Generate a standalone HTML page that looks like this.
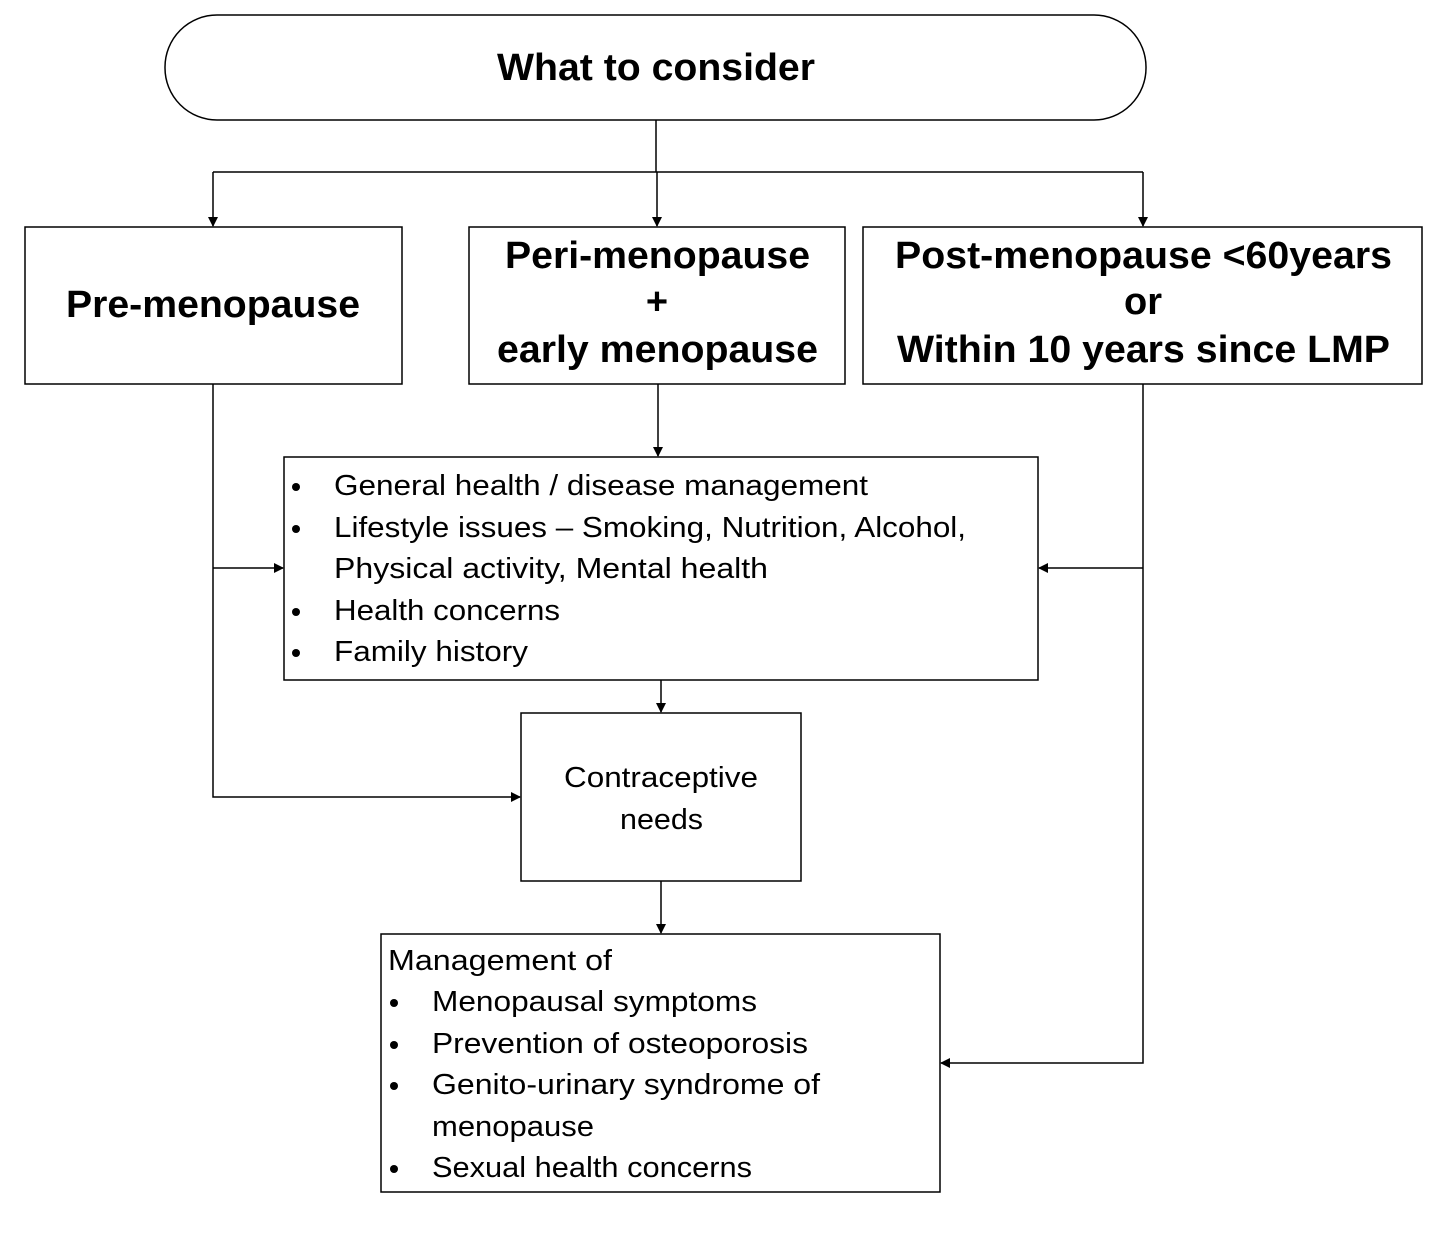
<!DOCTYPE html>
<html><head><meta charset="utf-8"><style>
html,body{margin:0;padding:0;background:#fff;}
svg{display:block;}
.t{font-family:"Liberation Sans",sans-serif;font-weight:bold;font-size:38px;fill:#000;}
.b{font-family:"Liberation Sans","DejaVu Sans",sans-serif;font-size:29px;fill:#000;}
</style></head><body>
<svg width="1437" height="1236" viewBox="0 0 1437 1236">
<defs><marker id="ar" markerWidth="10" markerHeight="10" refX="9" refY="5" orient="auto" markerUnits="userSpaceOnUse"><path d="M0,0 L10,5 L0,10 z" fill="#000"/></marker></defs>
<g stroke="#000" stroke-width="1.5" fill="none">
<rect x="165" y="15" width="981" height="105" rx="52" ry="52"/>
<rect x="25" y="227" width="377" height="157"/>
<rect x="469" y="227" width="376" height="157"/>
<rect x="863" y="227" width="559" height="157"/>
<rect x="284" y="457" width="754" height="223"/>
<rect x="521" y="713" width="280" height="168"/>
<rect x="381" y="934" width="559" height="258"/>
<g>
<path d="M656,120 V172"/>
<path d="M213,172 H1143"/>
<path d="M213,172 V226" marker-end="url(#ar)"/>
<path d="M657,172 V226" marker-end="url(#ar)"/>
<path d="M1143,172 V226" marker-end="url(#ar)"/>
<path d="M658,384 V456" marker-end="url(#ar)"/>
<path d="M213,384 V797 H520" marker-end="url(#ar)"/>
<path d="M213,568 H283" marker-end="url(#ar)"/>
<path d="M1143,384 V1063 H941" marker-end="url(#ar)"/>
<path d="M1143,568 H1039" marker-end="url(#ar)"/>
<path d="M661,680 V712" marker-end="url(#ar)"/>
<path d="M661,881 V933" marker-end="url(#ar)"/>
</g>
</g>
<text class="t" x="497" y="80" textLength="318" lengthAdjust="spacingAndGlyphs">What to consider</text>
<text class="t" x="66" y="317" textLength="294" lengthAdjust="spacingAndGlyphs">Pre-menopause</text>
<text class="t" x="505" y="268" textLength="305" lengthAdjust="spacingAndGlyphs">Peri-menopause</text>
<text class="t" x="657" y="314" text-anchor="middle">+</text>
<text class="t" x="497" y="362" textLength="321" lengthAdjust="spacingAndGlyphs">early menopause</text>
<text class="t" x="895" y="268" textLength="497" lengthAdjust="spacingAndGlyphs">Post-menopause &lt;60years</text>
<text class="t" x="1143" y="314" text-anchor="middle">or</text>
<text class="t" x="897" y="362" textLength="493" lengthAdjust="spacingAndGlyphs">Within 10 years since LMP</text>

<g>
<circle cx="296" cy="487" r="4"/><text class="b" x="334" y="495" textLength="534" lengthAdjust="spacingAndGlyphs">General health / disease management</text>
<circle cx="296" cy="529" r="4"/><text class="b" x="334" y="537" textLength="632" lengthAdjust="spacingAndGlyphs">Lifestyle issues – Smoking, Nutrition, Alcohol,</text>
<text class="b" x="334" y="578" textLength="434" lengthAdjust="spacingAndGlyphs">Physical activity, Mental health</text>
<circle cx="296" cy="612" r="4"/><text class="b" x="334" y="620" textLength="226" lengthAdjust="spacingAndGlyphs">Health concerns</text>
<circle cx="296" cy="653" r="4"/><text class="b" x="334" y="661" textLength="194" lengthAdjust="spacingAndGlyphs">Family history</text>
</g>
<text class="b" x="564" y="787" textLength="194" lengthAdjust="spacingAndGlyphs">Contraceptive</text>
<text class="b" x="620" y="829" textLength="83" lengthAdjust="spacingAndGlyphs">needs</text>
<g>
<text class="b" x="388" y="970" textLength="224" lengthAdjust="spacingAndGlyphs">Management of</text>
<circle cx="394" cy="1003" r="4"/><text class="b" x="432" y="1011" textLength="325" lengthAdjust="spacingAndGlyphs">Menopausal symptoms</text>
<circle cx="394" cy="1045" r="4"/><text class="b" x="432" y="1053" textLength="376" lengthAdjust="spacingAndGlyphs">Prevention of osteoporosis</text>
<circle cx="394" cy="1086" r="4"/><text class="b" x="432" y="1094" textLength="388" lengthAdjust="spacingAndGlyphs">Genito-urinary syndrome of</text>
<text class="b" x="432" y="1136" textLength="162" lengthAdjust="spacingAndGlyphs">menopause</text>
<circle cx="394" cy="1169" r="4"/><text class="b" x="432" y="1177" textLength="320" lengthAdjust="spacingAndGlyphs">Sexual health concerns</text>
</g>
</svg>
</body></html>
